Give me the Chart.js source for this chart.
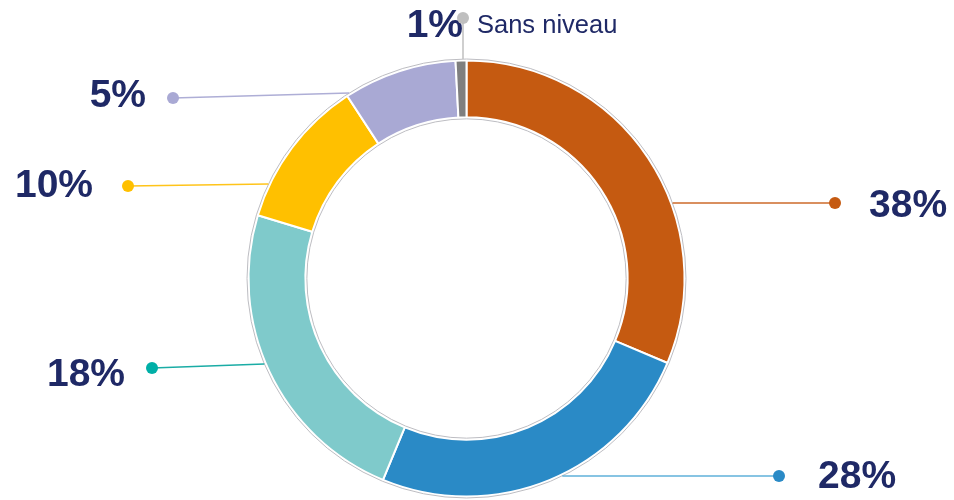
<!DOCTYPE html>
<html>
<head>
<meta charset="utf-8">
<script src="https://cdn.jsdelivr.net/npm/chart.js@4/dist/chart.umd.min.js"></script>
<style>
  html, body { margin: 0; padding: 0; background: #ffffff; }
  #wrap { width: 954px; height: 500px; }
</style>
</head>
<body>
<div id="wrap"><canvas id="c" width="954" height="500"></canvas></div>
<script>
// ---- data ----
const categories = ['Catégorie 1', 'Catégorie 2', 'Catégorie 3', 'Catégorie 4', 'Catégorie 5', 'Sans niveau'];
const values = [31.3, 24.9, 23.4, 11.1, 8.4, 0.8];          // slice sizes as drawn
const percentLabels = ['38%', '28%', '18%', '10%', '5%', '1%']; // printed labels
const sliceColors = ['#C55A11', '#2A8AC6', '#7FCACB', '#FFC000', '#A9A9D4', '#7F7F7F'];
const dotColors   = ['#C55A11', '#2A8AC6', '#00AFA7', '#FFC000', '#A9A9D4', '#BFBFBF'];
const lineColors  = ['#CC6A2A', '#5FB0DA', '#1AACA5', '#FFC41A', '#AEAED6', '#BFBFBF'];

// ---- annotation layout (canvas px) ----
const annot = [
  { dotX: 835, dotY: 203, ringY: 203, textX: 869, textY: 217, align: 'left' },
  { dotX: 779, dotY: 476, ringY: 476, textX: 818, textY: 488, align: 'left' },
  { dotX: 152, dotY: 368, ringY: 364, textX: 125, textY: 386, align: 'right' },
  { dotX: 128, dotY: 186, ringY: 184, textX: 93,  textY: 197, align: 'right' },
  { dotX: 173, dotY: 98,  ringY: 93,  textX: 146, textY: 107, align: 'right' },
  { dotX: 463, dotY: 18,  vertical: true, textX: 463, textY: 37, align: 'right' }
];
const TEXT_COLOR = '#1F2966';

const leaderPlugin = {
  id: 'leaders',
  afterDatasetsDraw(chart) {
    const ctx = chart.ctx;
    const meta = chart.getDatasetMeta(0);
    const a0 = meta.data[0];
    const cx = a0.x, cy = a0.y;
    const R = a0.outerRadius + 1.5, r = a0.innerRadius - 1.5;
    ctx.save();
    // thin grey outlines
    ctx.strokeStyle = '#BDBDC2';
    ctx.lineWidth = 1;
    ctx.beginPath(); ctx.arc(cx, cy, R, 0, Math.PI * 2); ctx.stroke();
    ctx.beginPath(); ctx.arc(cx, cy, r, 0, Math.PI * 2); ctx.stroke();

    annot.forEach((p, i) => {
      let ex, ey;
      if (p.vertical) {
        ex = p.dotX;
        ey = cy - Math.sqrt(R * R - (p.dotX - cx) * (p.dotX - cx));
      } else {
        const dy = p.ringY - cy;
        const dx = Math.sqrt(Math.max(R * R - dy * dy, 0));
        ex = p.dotX > cx ? cx + dx : cx - dx;
        ey = p.ringY;
      }
      ctx.strokeStyle = lineColors[i];
      ctx.lineWidth = 1.5;
      ctx.beginPath(); ctx.moveTo(p.dotX, p.dotY); ctx.lineTo(ex, ey); ctx.stroke();
    });

    annot.forEach((p, i) => {
      ctx.fillStyle = TEXT_COLOR;
      ctx.font = 'bold 39px "Liberation Sans", Arial, sans-serif';
      ctx.textAlign = p.align;
      ctx.textBaseline = 'alphabetic';
      ctx.fillText(percentLabels[i], p.textX, p.textY);
    });
    annot.forEach((p, i) => {
      ctx.fillStyle = dotColors[i];
      ctx.beginPath(); ctx.arc(p.dotX, p.dotY, 6, 0, Math.PI * 2); ctx.fill();
    });
    // category name next to the small slice
    ctx.fillStyle = TEXT_COLOR;
    ctx.font = '25.5px "Liberation Sans", Arial, sans-serif';
    ctx.textAlign = 'left';
    ctx.fillText(categories[5], 477, 33);
    ctx.restore();
  }
};

new Chart(document.getElementById('c'), {
  type: 'doughnut',
  data: {
    labels: categories,
    datasets: [{
      data: values,
      backgroundColor: sliceColors,
      borderColor: '#FFFFFF',
      borderWidth: 2
    }]
  },
  options: {
    responsive: false,
    devicePixelRatio: 1,
    animation: false,
    radius: 218,
    cutout: 163,
    rotation: 0,
    layout: { padding: { top: 57, bottom: 0, left: 0, right: 21 } },
    plugins: { legend: { display: false }, tooltip: { enabled: false } }
  },
  plugins: [leaderPlugin]
});
</script>
</body>
</html>
